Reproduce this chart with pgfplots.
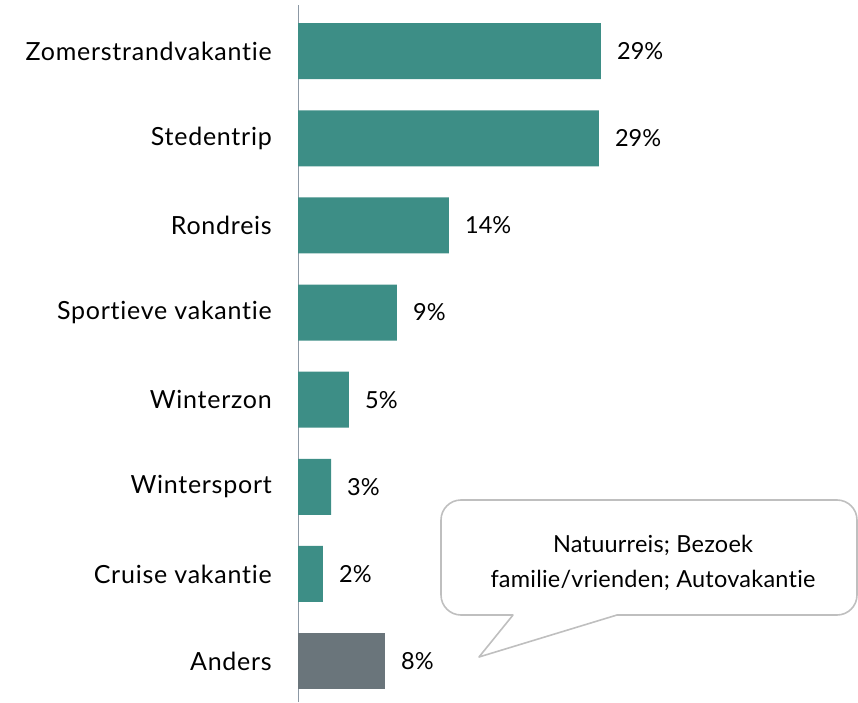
\documentclass[border=0pt]{standalone}
\usepackage{pgfplots}
\pgfplotsset{compat=1.18}
\usepackage{fontspec}
\setmainfont{Lato}[Ligatures={NoCommon}]
\newfontfamily\labfont{Lato}[Ligatures={NoCommon},LetterSpace=3]
\newfontfamily\callfont{Lato}[Ligatures={NoCommon},LetterSpace=1]
\definecolor{teal1}{HTML}{3D8E86}
\definecolor{gray1}{HTML}{6A757B}
\definecolor{axisgray}{HTML}{8C98A4}
\definecolor{callout}{HTML}{BFBFBF}
\begin{document}
\begin{tikzpicture}
\begin{axis}[
  at={(298pt,0pt)}, anchor=south west,
  scale only axis,
  width=560pt, height=697pt,
  xbar, /pgf/bar shift=0pt,
  bar width=0.643,
  xmin=0, xmax=53.6,
  ymin=-0.47, ymax=7.53,
  hide x axis,
  axis y line*=left,
  y axis line style={-,draw=axisgray,line width=1pt},
  ytick={0,1,2,3,4,5,6,7},
  yticklabels={Anders,Cruise vakantie,Wintersport,Winterzon,Sportieve vakantie,Rondreis,Stedentrip,Zomerstrandvakantie},
  major tick length=0pt,
  ytick style={draw=none},
  yticklabel style={font=\labfont\fontsize{25}{30}\selectfont, inner sep=0pt, anchor=east, xshift=-26pt},
  point meta=explicit symbolic,
  nodes near coords,
  every node near coord/.append style={font=\fontsize{23.5}{29}\selectfont, anchor=west, inner sep=0pt, xshift=16pt, text=black},
  clip=false,
]
\addplot[fill=teal1, draw=none] table[meta=lab] {
x y lab
29.0 7 29\%
28.8 6 29\%
14.45 5 14\%
9.47 4 9\%
4.88 3 5\%
3.16 2 3\%
2.39 1 2\%
};
\addplot[fill=gray1, draw=none] table[meta=lab] {
x y lab
8.33 0 8\%
};
\end{axis}
\draw[callout, line width=1.6pt, line join=round]
  (479pt,45pt) -- (513pt,87pt) [rounded corners=20pt] -- (441pt,87pt) -- (441pt,202pt) -- (857pt,202pt) -- (857pt,87pt) [sharp corners] -- (617pt,87pt) -- cycle;
\node[align=center, font=\callfont\fontsize{23.5}{35}\selectfont, inner sep=0pt] at (653pt,139pt) {Natuurreis; Bezoek\\familie/vrienden; Autovakantie};
\pgfresetboundingbox
\path (0pt,0pt) rectangle (858pt,702pt);
\end{tikzpicture}
\end{document}
